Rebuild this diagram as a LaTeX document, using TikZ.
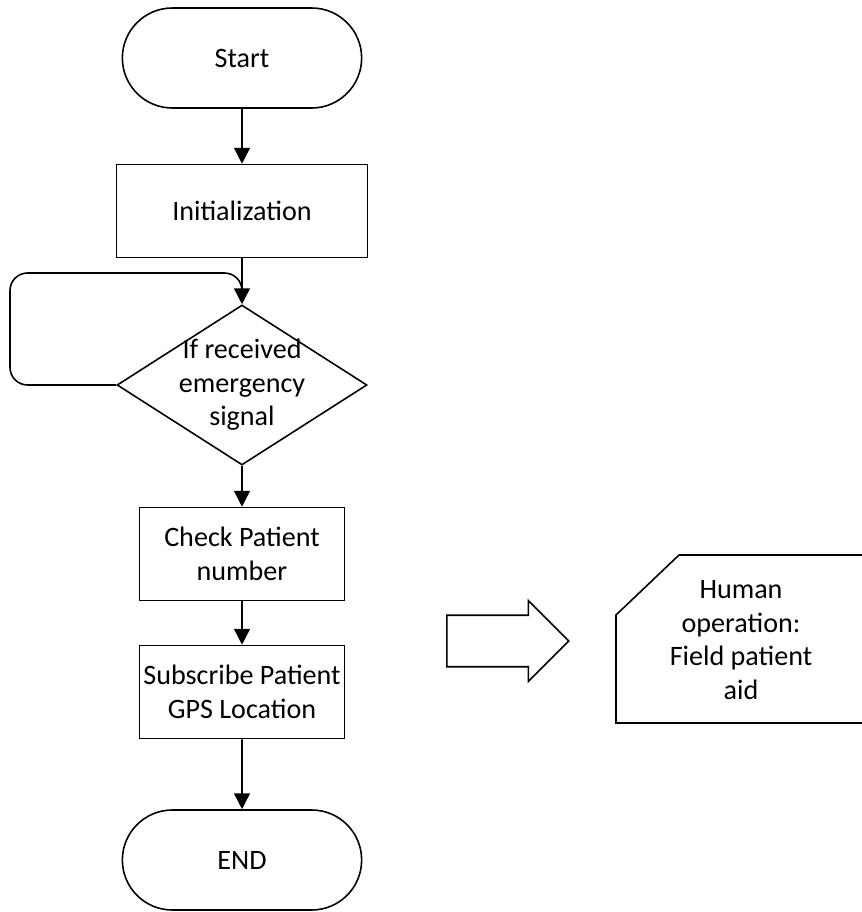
\documentclass[tikz,border=0pt]{standalone}
\usepackage{fontspec}
\setmainfont{Carlito}
\usetikzlibrary{shapes.geometric,shapes.arrows,shapes.misc,arrows.meta}

\begin{document}
\begin{tikzpicture}[->,>={Triangle[length=9pt,width=9pt]},line width=0.9pt,
	termnode/.style={rounded rectangle,draw,minimum width=5.02cm,minimum height=2cm,font=\fontsize{16}{19.5}\selectfont},
	boxnode/.style={rectangle,draw,align=center,inner xsep=2pt,minimum height=1.86cm,font=\fontsize{16}{19.5}\selectfont},
	decnode/.style={diamond,draw,align=center,inner sep=-10pt,aspect=1.56,minimum width=5cm,minimum height=3.2cm,font=\fontsize{16}{19}\selectfont},
	blockarr/.style={single arrow,draw,-,anchor=tail,inner xsep=0pt,inner ysep=0.42cm,minimum height=2.44cm,minimum width=1.62cm},
	textnode/.style={align=center,inner sep=0pt,font=\fontsize{16}{19}\selectfont}]
		\useasboundingbox (0,0) rectangle (17.22,-18.24);
		\node [termnode] (start) at (4.84, -1.16) {Start};
		\node [boxnode, minimum width=5.02cm] (init) at (4.84, -4.22) {Initialization};
		\node [decnode] (dec) at (4.84, -7.7) {If received\\emergency\\signal};
		\node [boxnode, minimum width=4.1cm] (check) at (4.84, -11.08) {Check Patient\\number};
		\node [boxnode, minimum width=4.1cm] (gps) at (4.84, -13.84) {Subscribe Patient\\GPS Location};
		\node [termnode] (end) at (4.84, -17.2) {END};
		\node [blockarr] (push) at (8.92, -12.82) {};
		\node [textnode] (human) at (14.82, -12.8) {Human\\operation:\\Field patient\\aid};
		\draw[-] (12.32, -14.46) -- (12.32, -12.3) -- (13.58, -11.1) -- (17.4, -11.1) -- (17.4, -14.46) -- cycle;
		\coordinate (looptop) at (4.84, -5.46);
		\coordinate (loopjoin) at (4.84, -5.72);
		\draw (start) to (init);
		\draw (init) to (dec);
		\draw[-,rounded corners=10pt] (dec.west) -| (0.2, -5.46) -- (looptop) -- (loopjoin);
		\draw (dec) to (check);
		\draw (check) to (gps);
		\draw (gps) to (end);
	\end{tikzpicture}
\end{document}
